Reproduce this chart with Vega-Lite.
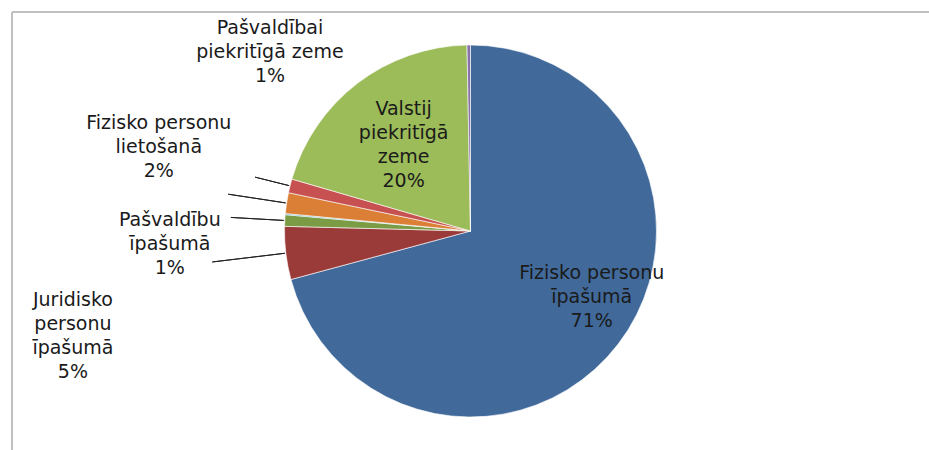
{
  "$schema": "https://vega.github.io/schema/vega-lite/v6.json",
  "width": 917,
  "height": 438,
  "autosize": {"type": "none"},
  "padding": {"left": 12, "top": 12, "right": 0, "bottom": 0},
  "background": "white",
  "config": {"view": {"stroke": null}, "text": {"font": "DejaVu Sans"}},
  "data": {"values": [
    {"idx": 1, "cat": "Fizisko personu īpašumā", "value": 70.8, "label": "Fizisko personu\nīpašumā\n71%"},
    {"idx": 2, "cat": "Juridisko personu īpašumā", "value": 4.6, "label": "Juridisko\npersonu\nīpašumā\n5%"},
    {"idx": 3, "cat": "Pašvaldību īpašumā", "value": 1.0, "label": "Pašvaldību\nīpašumā\n1%"},
    {"idx": 4, "cat": "Cits", "value": 0.1, "label": ""},
    {"idx": 5, "cat": "Fizisko personu lietošanā", "value": 1.8, "label": "Fizisko personu\nlietošanā\n2%"},
    {"idx": 6, "cat": "Pašvaldībai piekritīgā zeme", "value": 1.2, "label": "Pašvaldībai\npiekritīgā zeme\n1%"},
    {"idx": 7, "cat": "Valstij piekritīgā zeme", "value": 20.2, "label": "Valstij\npiekritīgā\nzeme\n20%"},
    {"idx": 8, "cat": "Citi", "value": 0.3, "label": ""}
  ]},
  "layer": [
    {
      "data": {"values": [{}]},
      "mark": {"type": "rule", "color": "#c0c0c0", "strokeWidth": 2},
      "encoding": {"y": {"value": 0}}
    },
    {
      "data": {"values": [{}]},
      "mark": {"type": "rule", "color": "#c0c0c0", "strokeWidth": 2},
      "encoding": {"x": {"value": 0}}
    },
    {
      "mark": {"type": "arc", "outerRadius": 186, "stroke": "#ffffff", "strokeWidth": 0.6},
      "encoding": {
        "theta": {"field": "value", "type": "quantitative", "stack": true},
        "order": {"field": "idx", "type": "quantitative"},
        "color": {"field": "cat", "type": "nominal", "legend": null,
          "scale": {
            "domain": ["Fizisko personu īpašumā", "Juridisko personu īpašumā", "Pašvaldību īpašumā", "Cits", "Fizisko personu lietošanā", "Pašvaldībai piekritīgā zeme", "Valstij piekritīgā zeme", "Citi"],
            "range": ["#416a9b", "#9a3b39", "#7c9b45", "#4bacc6", "#da7f35", "#c65150", "#9cbb59", "#8573a9"]
          }}
      }
    },
    {
      "mark": {"type": "arc", "innerRadius": 187, "outerRadius": 260, "padAngle": 0.4, "filled": false, "color": "#222222", "strokeWidth": 1},
      "encoding": {
        "theta": {"field": "value", "type": "quantitative", "stack": true},
        "order": {"field": "idx", "type": "quantitative"},
        "detail": {"field": "cat"},
        "strokeOpacity": {"condition": {"test": "datum.cat === 'Juridisko personu īpašumā'", "value": 1}, "value": 0}
      }
    },
    {
      "mark": {"type": "arc", "innerRadius": 187, "outerRadius": 240, "padAngle": 0.4, "filled": false, "color": "#222222", "strokeWidth": 1},
      "encoding": {
        "theta": {"field": "value", "type": "quantitative", "stack": true},
        "order": {"field": "idx", "type": "quantitative"},
        "detail": {"field": "cat"},
        "strokeOpacity": {"condition": {"test": "datum.cat === 'Pašvaldību īpašumā'", "value": 1}, "value": 0}
      }
    },
    {
      "mark": {"type": "arc", "innerRadius": 187, "outerRadius": 245, "padAngle": 0.4, "filled": false, "color": "#222222", "strokeWidth": 1},
      "encoding": {
        "theta": {"field": "value", "type": "quantitative", "stack": true},
        "order": {"field": "idx", "type": "quantitative"},
        "detail": {"field": "cat"},
        "strokeOpacity": {"condition": {"test": "datum.cat === 'Fizisko personu lietošanā'", "value": 1}, "value": 0}
      }
    },
    {
      "mark": {"type": "arc", "innerRadius": 187, "outerRadius": 222, "padAngle": 0.4, "filled": false, "color": "#222222", "strokeWidth": 1},
      "encoding": {
        "theta": {"field": "value", "type": "quantitative", "stack": true},
        "order": {"field": "idx", "type": "quantitative"},
        "detail": {"field": "cat"},
        "strokeOpacity": {"condition": {"test": "datum.cat === 'Pašvaldībai piekritīgā zeme'", "value": 1}, "value": 0}
      }
    },
    {
      "mark": {"type": "text", "radius": 135, "dx": 14, "dy": -40, "align": "center", "baseline": "middle", "lineBreak": "\n", "lineHeight": 24, "fontSize": 19, "fill": "#1a1a1a"},
      "encoding": {
        "theta": {"field": "value", "type": "quantitative", "stack": true},
        "order": {"field": "idx", "type": "quantitative"},
        "detail": {"field": "cat"},
        "text": {"condition": {"test": "datum.cat === 'Fizisko personu īpašumā'", "field": "label"}, "value": ""}
      }
    },
    {
      "mark": {"type": "text", "radius": 110, "dx": 0, "dy": -35, "align": "center", "baseline": "middle", "lineBreak": "\n", "lineHeight": 24, "fontSize": 19, "fill": "#1a1a1a"},
      "encoding": {
        "theta": {"field": "value", "type": "quantitative", "stack": true},
        "order": {"field": "idx", "type": "quantitative"},
        "detail": {"field": "cat"},
        "text": {"condition": {"test": "datum.cat === 'Valstij piekritīgā zeme'", "field": "label"}, "value": ""}
      }
    },
    {
      "mark": {"type": "text", "radius": 200, "dx": -6.5, "dy": -154.5, "align": "center", "baseline": "middle", "lineBreak": "\n", "lineHeight": 24, "fontSize": 19, "fill": "#1a1a1a"},
      "encoding": {
        "theta": {"field": "value", "type": "quantitative", "stack": true},
        "order": {"field": "idx", "type": "quantitative"},
        "detail": {"field": "cat"},
        "text": {"condition": {"test": "datum.cat === 'Pašvaldībai piekritīgā zeme'", "field": "label"}, "value": ""}
      }
    },
    {
      "mark": {"type": "text", "radius": 200, "dx": -114, "dy": -78, "align": "center", "baseline": "middle", "lineBreak": "\n", "lineHeight": 24, "fontSize": 19, "fill": "#1a1a1a"},
      "encoding": {
        "theta": {"field": "value", "type": "quantitative", "stack": true},
        "order": {"field": "idx", "type": "quantitative"},
        "detail": {"field": "cat"},
        "text": {"condition": {"test": "datum.cat === 'Fizisko personu lietošanā'", "field": "label"}, "value": ""}
      }
    },
    {
      "mark": {"type": "text", "radius": 200, "dx": -101, "dy": 0, "align": "center", "baseline": "middle", "lineBreak": "\n", "lineHeight": 24, "fontSize": 19, "fill": "#1a1a1a"},
      "encoding": {
        "theta": {"field": "value", "type": "quantitative", "stack": true},
        "order": {"field": "idx", "type": "quantitative"},
        "detail": {"field": "cat"},
        "text": {"condition": {"test": "datum.cat === 'Pašvaldību īpašumā'", "field": "label"}, "value": ""}
      }
    },
    {
      "mark": {"type": "text", "radius": 200, "dx": -199, "dy": 45, "align": "center", "baseline": "middle", "lineBreak": "\n", "lineHeight": 24, "fontSize": 19, "fill": "#1a1a1a"},
      "encoding": {
        "theta": {"field": "value", "type": "quantitative", "stack": true},
        "order": {"field": "idx", "type": "quantitative"},
        "detail": {"field": "cat"},
        "text": {"condition": {"test": "datum.cat === 'Juridisko personu īpašumā'", "field": "label"}, "value": ""}
      }
    }
  ]
}
